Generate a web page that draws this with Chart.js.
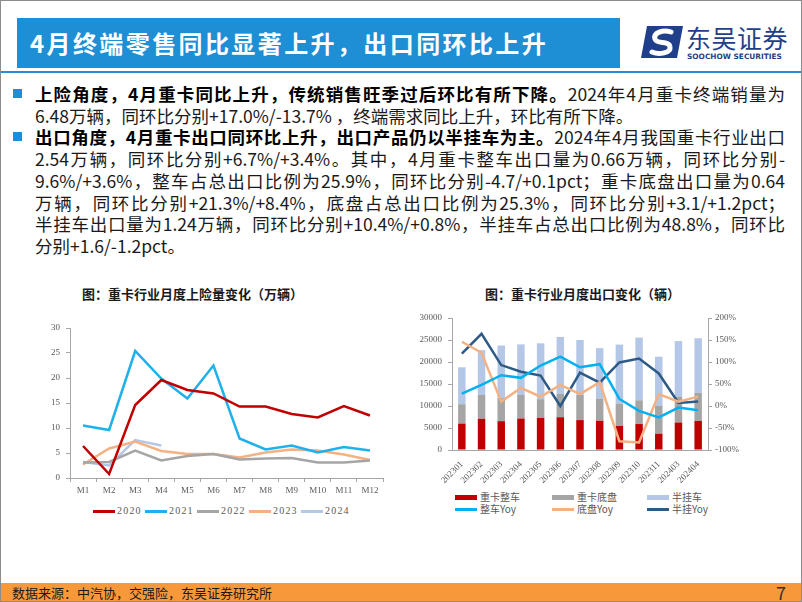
<!DOCTYPE html>
<html>
<head>
<meta charset="utf-8">
<script src="https://cdn.jsdelivr.net/npm/chart.js@4.4.1/dist/chart.umd.min.js"></script>
<style>
body{margin:0;width:802px;height:602px;position:relative;overflow:hidden;background:#fff;font-family:"Noto Sans CJK SC",sans-serif;}
.frame{position:absolute;left:0;top:0;width:800px;height:600px;border:1px solid #8c8c8c;pointer-events:none;}
.titlebox{position:absolute;left:17px;top:18px;width:603px;height:50px;background:#1e8fd4;color:#fff;font-weight:bold;font-size:24px;line-height:50px;padding-left:13px;box-sizing:border-box;letter-spacing:2.4px;white-space:nowrap;}
.rule{position:absolute;left:0;top:71px;width:802px;height:2px;background:#2b8ad0;}
.logo{position:absolute;left:641px;top:26px;}
.logo-cn{position:absolute;left:686px;top:22px;font-size:25px;color:#1f3f8a;line-height:30px;letter-spacing:0.5px;white-space:nowrap;}
.logo-en{position:absolute;left:687px;top:52px;font-size:7.4px;font-weight:bold;color:#1f3f8a;font-family:"DejaVu Sans",sans-serif;white-space:nowrap;}
.body{position:absolute;left:35px;top:83px;width:750px;font-size:17.5px;line-height:21.7px;color:#1a1a1a;}
.body div{white-space:nowrap;}
.body .j{text-align:justify;text-align-last:justify;}
.body b{color:#000;}
.bullet{position:absolute;left:13px;width:9px;height:9px;background:#1e8fd4;}
.ctitle{position:absolute;top:284px;font-size:13px;font-weight:bold;color:#1a1a1a;white-space:nowrap;}
canvas{position:absolute;}
.lg{position:absolute;font-size:10px;color:#595959;white-space:nowrap;line-height:12px;}
.sw{position:absolute;}
.footer{position:absolute;left:0;top:583px;width:802px;height:19px;background:#f7993b;}
.footer .src{position:absolute;left:12px;top:0;font-size:13px;line-height:19px;color:#1a1a1a;}
.footer .pg{position:absolute;left:776px;top:-2px;font-size:18px;line-height:22px;color:#333;}
</style>
</head>
<body>
<div class="titlebox">4月终端零售同比显著上升，出口同环比上升</div>
<svg class="logo" width="42" height="32" viewBox="0 0 42 32">
  <path d="M6 0 H42 L36 32 H0 Z" fill="#1f3f8a"/>
  <path d="M30 6 C22 3 12 7 14 13 C16 19 28 14 29 21 C30 27 18 29 11 26" stroke="#fff" stroke-width="5" fill="none" stroke-linecap="round"/>
</svg>
<div class="logo-cn">东吴证券</div>
<div class="logo-en">SOOCHOW SECURITIES</div>
<div class="rule"></div>

<div class="bullet" style="top:89px"></div>
<div class="bullet" style="top:132px"></div>
<div class="body">
  <div class="j"><b>上险角度，4月重卡同比上升，传统销售旺季过后环比有所下降。</b>2024年4月重卡终端销量为</div>
  <div>6.48万辆，同环比分别+17.0%/-13.7% ，终端需求同比上升，环比有所下降。</div>
  <div class="j"><b>出口角度，4月重卡出口同环比上升，出口产品仍以半挂车为主。</b>2024年4月我国重卡行业出口</div>
  <div class="j">2.54万辆，同环比分别+6.7%/+3.4%。其中，4月重卡整车出口量为0.66万辆，同环比分别-</div>
  <div class="j">9.6%/+3.6%，整车占总出口比例为25.9%，同环比分别-4.7/+0.1pct；重卡底盘出口量为0.64</div>
  <div class="j">万辆，同环比分别+21.3%/+8.4%，底盘占总出口比例为25.3%，同环比分别+3.1/+1.2pct；</div>
  <div class="j">半挂车出口量为1.24万辆，同环比分别+10.4%/+0.8%，半挂车占总出口比例为48.8%，同环比</div>
  <div>分别+1.6/-1.2pct。</div>
</div>

<div class="ctitle" style="left:82px">图：重卡行业月度上险量变化（万辆）</div>
<div class="ctitle" style="left:485px">图：重卡行业月度出口变化（辆）</div>

<canvas id="left" width="365" height="185" style="left:30px;top:315px"></canvas>
<div id="leftLegend"></div>
<canvas id="right" width="350" height="180" style="left:400px;top:305px"></canvas>
<div id="rightLegend"></div>

<div class="footer"><span class="src">数据来源：中汽协，交强险，东吴证券研究所</span><span class="pg">7</span></div>
<div class="frame"></div>

<script>
// 左图：重卡上险量（万辆）
const months=['M1','M2','M3','M4','M5','M6','M7','M8','M9','M10','M11','M12'];
const ins2020=[6.4,0.8,14.6,19.6,17.6,16.9,14.3,14.3,12.8,12.1,14.4,12.5];
const ins2021=[10.5,9.6,25.4,19.9,15.9,22.5,7.9,5.7,6.5,5.1,6.2,5.5];
const ins2022=[3.1,3.2,5.5,3.5,4.4,4.8,3.7,3.9,4.0,3.1,3.1,3.5];
const ins2023=[2.7,5.9,7.3,5.4,4.8,4.8,4.1,5.1,5.7,5.5,4.7,3.6];
const ins2024=[3.2,2.5,7.6,6.5];
const leftTicks=[0,5,10,15,20,25,30];

// 右图：重卡出口（辆）
const periods=['202301','202302','202303','202304','202305','202306','202307','202308','202309','202310','202311','202403','202404'];
const wholeTruck=[6000,7100,6550,7150,7300,7450,6800,6650,5450,5900,3700,6250,6600];
const chassis=[4400,5400,5300,5350,4250,5300,5700,5050,5100,5400,6400,5900,6400];
const semiTrailer=[8400,10200,11900,11500,12700,12950,12500,11450,13400,14250,11100,12600,12400];
const wholeYoy=[28,48,70,64,92,112,88,95,16,-11,-26,-3.5,-9.6];
const chassisYoy=[146,121,10,41,21,48,27,54,-80,-83,27,10,21.3];
const semiYoy=[119,164,93,78,69,0,76,53,99,108,74,7,10.4];

const axisCol='#a6a6a6';
const tickFont={family:'Liberation Serif',size:9};

const leftSeries=[
  {label:'2020',data:ins2020,color:'#c00000'},
  {label:'2021',data:ins2021,color:'#1eb1ec'},
  {label:'2022',data:ins2022,color:'#a5a5a5'},
  {label:'2023',data:ins2023,color:'#f4b183'},
  {label:'2024',data:ins2024,color:'#b4c7e7'}
];

new Chart(document.getElementById('left'),{
  type:'line',
  data:{
    labels:months,
    datasets:leftSeries.map(s=>({label:s.label,data:s.data,borderColor:s.color,backgroundColor:s.color,borderWidth:2.5,pointRadius:0,tension:0}))
  },
  options:{
    responsive:false,animation:false,
    layout:{padding:{top:13,right:12,left:0,bottom:0}},
    plugins:{legend:{display:false},tooltip:{enabled:false}},
    scales:{
      x:{offset:true,
        grid:{offset:true,drawOnChartArea:false,tickLength:4,color:axisCol},
        border:{color:axisCol},
        ticks:{font:tickFont,color:'#595959',padding:3,maxRotation:0,autoSkip:false},
        afterFit:s=>{s.height=22}},
      y:{min:0,max:30,
        afterBuildTicks:s=>{s.ticks=leftTicks.map(v=>({value:v}))},
        grid:{drawOnChartArea:false,tickLength:4,color:axisCol},
        border:{color:axisCol},
        ticks:{font:tickFont,color:'#595959',padding:6},
        afterFit:s=>{s.width=40}}
    }
  }
});

// 左图图例
let lh='';
leftSeries.forEach((s,i)=>{
  const x=93+i*52;
  lh+=`<div class="sw" style="left:${x}px;top:510px;width:22px;height:3px;background:${s.color}"></div>`;
  lh+=`<div class="lg" style="left:${x+24}px;top:505px;font-family:'Liberation Serif';letter-spacing:1.2px">${s.label}</div>`;
});
document.getElementById('leftLegend').innerHTML=lh;

const rightBars=[
  {label:'重卡整车',data:wholeTruck,color:'#c00000'},
  {label:'重卡底盘',data:chassis,color:'#a5a5a5'},
  {label:'半挂车',data:semiTrailer,color:'#b4c7e7'}
];
const rightLines=[
  {label:'整车Yoy',data:wholeYoy,color:'#00b0f0'},
  {label:'底盘Yoy',data:chassisYoy,color:'#f4b183'},
  {label:'半挂Yoy',data:semiYoy,color:'#2e5b86'}
];

new Chart(document.getElementById('right'),{
  type:'bar',
  data:{
    labels:periods,
    datasets:[
      ...rightBars.map(s=>({type:'bar',label:s.label,data:s.data,backgroundColor:s.color,stack:'t',order:2,barPercentage:0.38,categoryPercentage:1})),
      ...rightLines.map(s=>({type:'line',label:s.label,data:s.data,borderColor:s.color,backgroundColor:s.color,borderWidth:2.5,pointRadius:0,tension:0,yAxisID:'y1',order:1}))
    ]
  },
  options:{
    responsive:false,animation:false,
    layout:{padding:{top:13,right:0,left:0,bottom:0}},
    plugins:{legend:{display:false},tooltip:{enabled:false}},
    scales:{
      x:{stacked:true,
        grid:{display:false},
        border:{color:axisCol},
        ticks:{font:tickFont,color:'#595959',padding:1,minRotation:45,maxRotation:45,autoSkip:false},
        afterFit:s=>{s.height=35}},
      y:{stacked:true,min:0,max:30000,
        ticks:{stepSize:5000,font:tickFont,color:'#595959',padding:6,callback:v=>String(v)},
        grid:{drawOnChartArea:false,tickLength:4,color:axisCol},
        border:{color:axisCol},
        afterFit:s=>{s.width=52}},
      y1:{position:'right',min:-100,max:200,
        ticks:{stepSize:50,font:tickFont,color:'#595959',padding:3,callback:v=>v+'%'},
        grid:{drawOnChartArea:false,tickLength:4,color:axisCol},
        border:{color:axisCol},
        afterFit:s=>{s.width=42}}
    }
  }
});

// 右图图例
let rh='';
const cols=[455,552,647];
rightBars.forEach((s,i)=>{
  rh+=`<div class="sw" style="left:${cols[i]}px;top:495px;width:22px;height:5px;background:${s.color}"></div>`;
  rh+=`<div class="lg" style="left:${cols[i]+25}px;top:491px">${s.label}</div>`;
});
rightLines.forEach((s,i)=>{
  rh+=`<div class="sw" style="left:${cols[i]}px;top:508px;width:22px;height:2.5px;background:${s.color}"></div>`;
  rh+=`<div class="lg" style="left:${cols[i]+25}px;top:503px">${s.label}</div>`;
});
document.getElementById('rightLegend').innerHTML=rh;
</script>
</body>
</html>
